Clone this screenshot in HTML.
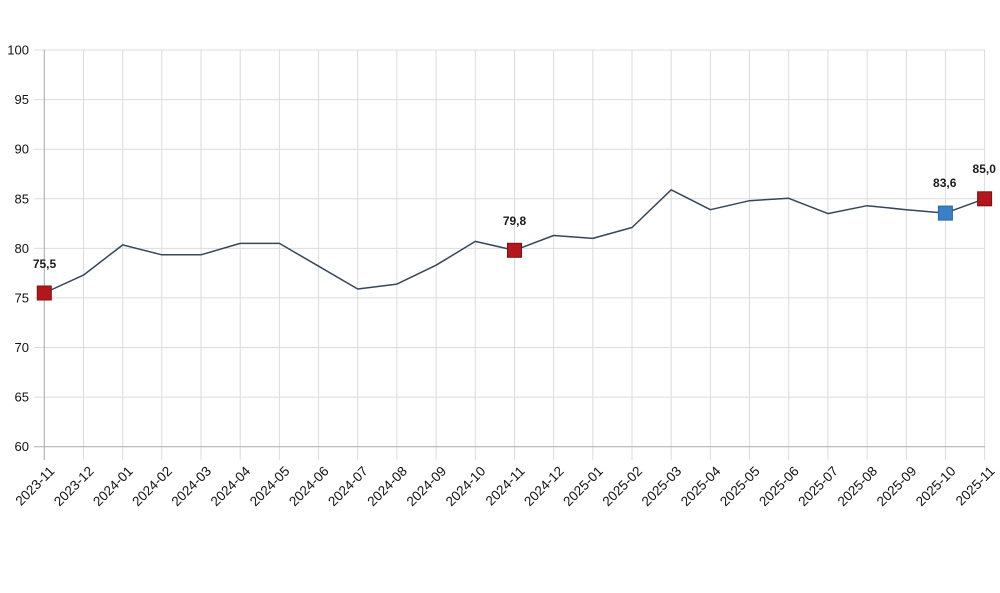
<!DOCTYPE html>
<html>
<head>
<meta charset="utf-8">
<style>
  html, body { margin: 0; padding: 0; background: #ffffff; }
  body { width: 1000px; height: 593px; overflow: hidden; }
  svg { display: block; }
  .ylab { font-family: "Liberation Sans", sans-serif; font-size: 13px; fill: #111; }
  .xlab { font-family: "Liberation Sans", sans-serif; font-size: 13.5px; fill: #111; }
  .dlab { font-family: "Liberation Sans", sans-serif; font-size: 12px; font-weight: bold; fill: #1a1a1a; }
</style>
</head>
<body>
<svg width="1000" height="593" viewBox="0 0 1000 593" xmlns="http://www.w3.org/2000/svg">
  <rect x="0" y="0" width="1000" height="593" fill="#ffffff"/>

  <!-- horizontal gridlines -->
  <g stroke="#dcdcdc" stroke-width="1">
    <line x1="34" y1="50" x2="985" y2="50"/>
    <line x1="34" y1="99.6" x2="985" y2="99.6"/>
    <line x1="34" y1="149.2" x2="985" y2="149.2"/>
    <line x1="34" y1="198.8" x2="985" y2="198.8"/>
    <line x1="34" y1="248.4" x2="985" y2="248.4"/>
    <line x1="34" y1="297.9" x2="985" y2="297.9"/>
    <line x1="34" y1="347.5" x2="985" y2="347.5"/>
    <line x1="34" y1="397.1" x2="985" y2="397.1"/>
  </g>

  <!-- vertical gridlines -->
  <g stroke="#dcdcdc" stroke-width="1">
    <line x1="83.5" y1="50" x2="83.5" y2="460"/>
    <line x1="122.7" y1="50" x2="122.7" y2="460"/>
    <line x1="161.8" y1="50" x2="161.8" y2="460"/>
    <line x1="201.0" y1="50" x2="201.0" y2="460"/>
    <line x1="240.2" y1="50" x2="240.2" y2="460"/>
    <line x1="279.4" y1="50" x2="279.4" y2="460"/>
    <line x1="318.6" y1="50" x2="318.6" y2="460"/>
    <line x1="357.7" y1="50" x2="357.7" y2="460"/>
    <line x1="396.9" y1="50" x2="396.9" y2="460"/>
    <line x1="436.1" y1="50" x2="436.1" y2="460"/>
    <line x1="475.3" y1="50" x2="475.3" y2="460"/>
    <line x1="514.5" y1="50" x2="514.5" y2="460"/>
    <line x1="553.6" y1="50" x2="553.6" y2="460"/>
    <line x1="592.8" y1="50" x2="592.8" y2="460"/>
    <line x1="632.0" y1="50" x2="632.0" y2="460"/>
    <line x1="671.2" y1="50" x2="671.2" y2="460"/>
    <line x1="710.4" y1="50" x2="710.4" y2="460"/>
    <line x1="749.5" y1="50" x2="749.5" y2="460"/>
    <line x1="788.7" y1="50" x2="788.7" y2="460"/>
    <line x1="827.9" y1="50" x2="827.9" y2="460"/>
    <line x1="867.1" y1="50" x2="867.1" y2="460"/>
    <line x1="906.3" y1="50" x2="906.3" y2="460"/>
    <line x1="945.4" y1="50" x2="945.4" y2="460"/>
    <line x1="984.6" y1="50" x2="984.6" y2="460"/>
  </g>

  <!-- axes -->
  <line x1="34" y1="446.7" x2="985" y2="446.7" stroke="#b4b4b4" stroke-width="1.2"/>
  <line x1="44.3" y1="50" x2="44.3" y2="460" stroke="#b4b4b4" stroke-width="1.2"/>

  <!-- y labels -->
  <g class="ylab" text-anchor="end">
    <text x="29" y="54.5">100</text>
    <text x="29" y="104.1">95</text>
    <text x="29" y="153.7">90</text>
    <text x="29" y="203.3">85</text>
    <text x="29" y="252.9">80</text>
    <text x="29" y="302.4">75</text>
    <text x="29" y="352">70</text>
    <text x="29" y="401.6">65</text>
    <text x="29" y="451.2">60</text>
  </g>

  <!-- x labels -->
  <g class="xlab" text-anchor="end">
    <text transform="translate(55.3,472) rotate(-45)">2023-11</text>
    <text transform="translate(94.5,472) rotate(-45)">2023-12</text>
    <text transform="translate(133.7,472) rotate(-45)">2024-01</text>
    <text transform="translate(172.8,472) rotate(-45)">2024-02</text>
    <text transform="translate(212.0,472) rotate(-45)">2024-03</text>
    <text transform="translate(251.2,472) rotate(-45)">2024-04</text>
    <text transform="translate(290.4,472) rotate(-45)">2024-05</text>
    <text transform="translate(329.6,472) rotate(-45)">2024-06</text>
    <text transform="translate(368.7,472) rotate(-45)">2024-07</text>
    <text transform="translate(407.9,472) rotate(-45)">2024-08</text>
    <text transform="translate(447.1,472) rotate(-45)">2024-09</text>
    <text transform="translate(486.3,472) rotate(-45)">2024-10</text>
    <text transform="translate(525.5,472) rotate(-45)">2024-11</text>
    <text transform="translate(564.6,472) rotate(-45)">2024-12</text>
    <text transform="translate(603.8,472) rotate(-45)">2025-01</text>
    <text transform="translate(643.0,472) rotate(-45)">2025-02</text>
    <text transform="translate(682.2,472) rotate(-45)">2025-03</text>
    <text transform="translate(721.4,472) rotate(-45)">2025-04</text>
    <text transform="translate(760.5,472) rotate(-45)">2025-05</text>
    <text transform="translate(799.7,472) rotate(-45)">2025-06</text>
    <text transform="translate(838.9,472) rotate(-45)">2025-07</text>
    <text transform="translate(878.1,472) rotate(-45)">2025-08</text>
    <text transform="translate(917.3,472) rotate(-45)">2025-09</text>
    <text transform="translate(956.4,472) rotate(-45)">2025-10</text>
    <text transform="translate(995.6,472) rotate(-45)">2025-11</text>
  </g>

  <!-- series line -->
  <polyline fill="none" stroke="#34475a" stroke-width="1.5" stroke-linejoin="round"
    points="44.3,293.0 83.5,275.1 122.7,244.9 161.8,254.8 201.0,254.8 240.2,243.4 279.4,243.4 318.6,266.2 357.7,289.0 396.9,284.1 436.1,265.2 475.3,241.4 514.5,250.3 553.6,235.5 592.8,238.4 632.0,227.5 671.2,189.8 710.4,209.7 749.5,200.7 788.7,198.3 827.9,213.6 867.1,205.7 906.3,209.7 945.4,213.1 984.6,198.8"/>

  <!-- markers -->
  <rect x="37.3" y="286" width="14" height="14" fill="#b3161b" stroke="#7d0f12" stroke-width="1"/>
  <rect x="507.5" y="243.3" width="14" height="14" fill="#b3161b" stroke="#7d0f12" stroke-width="1"/>
  <rect x="938.4" y="206.1" width="14" height="14" fill="#3a80c6" stroke="#2a65a3" stroke-width="1"/>
  <rect x="977.6" y="191.8" width="14" height="14" fill="#b3161b" stroke="#7d0f12" stroke-width="1"/>

  <!-- data labels -->
  <g class="dlab" text-anchor="middle">
    <text x="44.5" y="268">75,5</text>
    <text x="514.5" y="225">79,8</text>
    <text x="944.7" y="187">83,6</text>
    <text x="984.2" y="173">85,0</text>
  </g>
</svg>
</body>
</html>
